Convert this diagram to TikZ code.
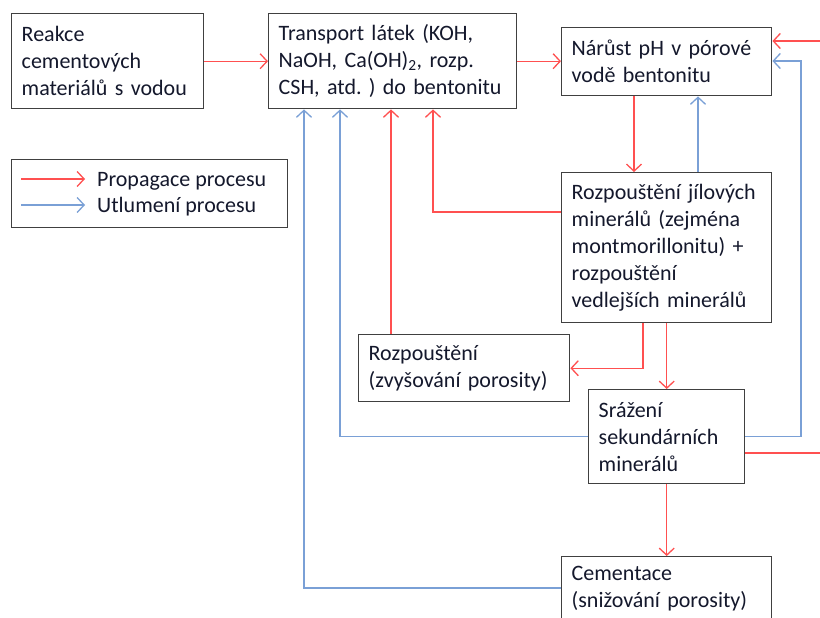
\documentclass[tikz,border=0pt]{standalone}
\usepackage{fontspec}
\setmainfont{Carlito}
\usetikzlibrary{arrows.meta}

\definecolor{propred}{RGB}{255,80,80}
\definecolor{utlblue}{RGB}{122,160,214}
\definecolor{boxgray}{RGB}{64,64,64}
\definecolor{textnavy}{RGB}{20,24,44}

\begin{document}
\frenchspacing
\begin{tikzpicture}[x=1pt,y=-1pt,
    box/.style={draw=boxgray,line width=1.4pt,fill=white,anchor=north west,align=left,
        inner xsep=10pt,inner ysep=0pt,text=textnavy,font=\fontsize{22}{27}\selectfont},
    legtext/.style={anchor=base west,inner sep=0pt,text=textnavy,font=\fontsize{22}{27}\selectfont},
    prop/.style={draw=propred,line width=1.3pt,-{Straight Barb[length=7pt,width=15pt]}},
    utl/.style={draw=utlblue,line width=1.3pt,-{Straight Barb[length=7pt,width=15pt]}}]
    \useasboundingbox (0,0) rectangle (820,618);
    \clip (0,0) rectangle (820,618);

    \node[box,text width=172pt,minimum height=95pt] (reakce) at (11,13)
        {Reakce\\cementových\\materiálů s vodou};
    \node[box,text width=228pt,minimum height=95pt] (transport) at (268,13)
        {Transport látek (KOH,\\NaOH, Ca(OH)\textsubscript{2}, rozp.\\CSH, atd. ) do bentonitu};
    \node[box,text width=190pt,minimum height=68pt] (narust) at (561,27)
        {Nárůst pH v pórové\\vodě bentonitu};
    \node[box,text width=190pt,minimum height=150pt] (rozjil) at (561,172)
        {Rozpouštění jílových\\minerálů (zejména\\montmorillonitu) +\\rozpouštění\\vedlejších minerálů};
    \node[box,text width=191pt,minimum height=67pt] (rozpor) at (358,334)
        {Rozpouštění\\(zvyšování porosity)};
    \node[box,text width=136pt,minimum height=94pt] (srazeni) at (588,389)
        {Srážení\\sekundárních\\minerálů};
    \node[box,text width=190pt,minimum height=64pt] (cement) at (561,556)
        {Cementace\\(snižování porosity)};

    \node[box,minimum width=276pt,minimum height=68pt] (legend) at (11,159) {};
    \node[legtext] (legprop) at (97,186) {Propagace procesu};
    \node[legtext] (legutl) at (97,212) {Utlumení procesu};
    \coordinate (legpropa) at (21,179);
    \coordinate (legpropb) at (85,179);
    \coordinate (legutla) at (21,205);
    \coordinate (legutlb) at (85,205);
    \draw[prop] (legpropa) -- (legpropb);
    \draw[utl] (legutla) -- (legutlb);

    \draw[prop] (reakce.east) -- (reakce.east -| transport.west);
    \draw[prop] (transport.east) -- (transport.east -| narust.west);
    \draw[prop] (narust.south -| 634,0) -- (rozjil.north -| 634,0);
    \draw[utl] (rozjil.north -| 698,0) -- (narust.south -| 698,0);
    \draw[prop] (rozjil.west |- 0,212) -| (transport.south -| 433,0);
    \draw[prop] (rozpor.north -| 391,0) -- (transport.south -| 391,0);
    \draw[prop] (rozjil.south -| 643,0) |- (rozpor.east);
    \draw[prop] (rozjil.south -| srazeni.north) -- (srazeni.north);
    \draw[utl] (srazeni.west) -| (transport.south -| 340,0);
    \draw[utl] (srazeni.east) -| (801,61) -- (narust.east |- 801,61);
    \draw[prop] (srazeni.east |- 0,453) -- (840,453) |- (narust.east |- 0,41);
    \draw[prop] (srazeni.south) -- (srazeni.south |- cement.north);
    \draw[utl] (cement.west |- 0,588) -| (transport.south -| 304,0);
\end{tikzpicture}
\end{document}
